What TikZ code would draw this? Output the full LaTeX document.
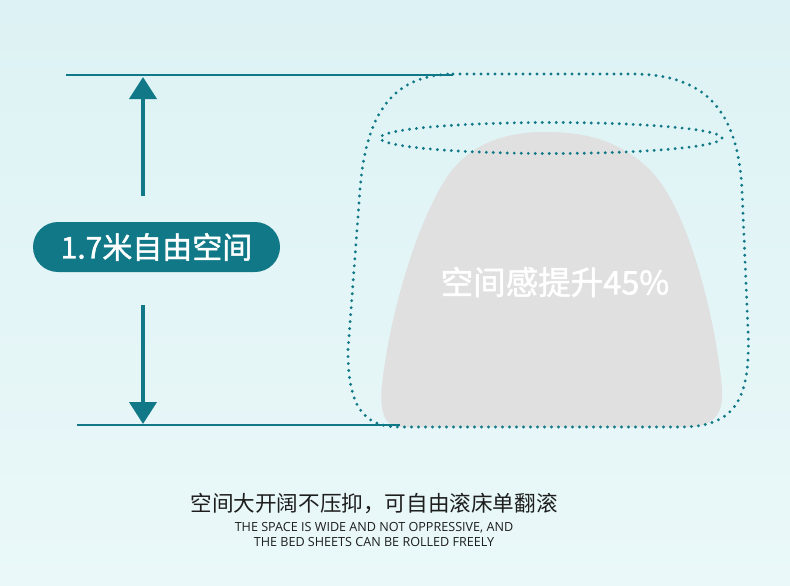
\documentclass[tikz,border=0pt]{standalone}
\usepackage{fontspec}
\setmainfont{Open Sans}
\newfontfamily\cjk{Noto Sans CJK SC}
\newfontfamily\cjkthick[FakeBold=1.5]{Noto Sans CJK SC}
\usepackage{tikz}
\usetikzlibrary{arrows.meta,positioning}
\definecolor{teal2}{RGB}{16,120,134}
\definecolor{bgtop}{RGB}{221,242,244}
\definecolor{bgbottom}{RGB}{234,248,249}
\definecolor{softgray}{RGB}{224,224,224}
\definecolor{ink}{RGB}{30,30,30}
\tikzset{
  guideline/.style={draw=teal2, line width=2.4pt},
  dimarrow/.style={-{Triangle[width=27pt,length=22pt]}, draw=teal2, line width=4pt},
  dotline/.style={draw=teal2, line width=3.2pt, line cap=round, dash pattern=on 0pt off 7pt},
  pillbox/.style={fill=teal2, rounded corners=25pt, minimum width=247pt,
    minimum height=50pt, inner sep=0pt, text=white, font=\cjkthick\fontsize{30}{30}\selectfont},
  gaintext/.style={text=white, font=\cjkthick\fontsize{32.5}{32.5}\selectfont},
  cntext/.style={text=ink, font=\cjk\fontsize{21.6}{21.6}\selectfont},
  entext/.style={text=ink, align=center, font=\fontsize{12.6}{15}\selectfont}
}

\begin{document}
\begin{tikzpicture}[x=1pt, y=-1pt]
\useasboundingbox (0,0) rectangle (790,586);
\shade[top color=bgtop, bottom color=bgbottom] (0,0) rectangle (790,586);

% body silhouette and space outline
\fill[softgray] (400,427) -- (688,427) .. controls (715,427) and (724,412) .. (722,388)
  .. controls (716,320) and (688,205) .. (648,168) .. controls (618,140) and (585,132) .. (545,132)
  .. controls (508,132) and (475,142) .. (452,170) .. controls (420,212) and (390,310) .. (382,385)
  .. controls (379,412) and (385,427) .. (400,427) -- cycle;
\draw[dotline] (551,138) ellipse [x radius=171pt, y radius=15.5pt];
\draw[dotline] (453,74) -- (635,74) .. controls (705,75) and (738,110) .. (742,190)
  -- (748,330) .. controls (751,400) and (735,427) .. (680,427) -- (400,427)
  .. controls (362,427) and (348,405) .. (348,350) -- (360,190)
  .. controls (366,110) and (395,75) .. (453,74);

% height marks
\coordinate (topL) at (66,75);
\coordinate (topR) at (453,75);
\coordinate (botL) at (77,425);
\coordinate (botR) at (400,425);
\draw[guideline] (topL) -- (topR);
\draw[guideline] (botL) -- (botR);

\node[pillbox] (height) at (156.5,247) {1.7米自由空间};
\coordinate (upstart) at (143,196);
\coordinate (uptip) at (143,77);
\coordinate (downstart) at (143,305);
\coordinate (downtip) at (143,424);
\draw[dimarrow] (upstart) -- (uptip);
\draw[dimarrow] (downstart) -- (downtip);

\node[gaintext] (gain) at (555,282) {空间感提升45\%};

\node[cntext] (caption) at (374,504) {空间大开阔不压抑，可自由滚床单翻滚};
\node[entext, below=1pt of caption] (subcaption)
  {THE SPACE IS WIDE AND NOT OPPRESSIVE, AND\\THE BED SHEETS CAN BE ROLLED FREELY};
\end{tikzpicture}
\end{document}
